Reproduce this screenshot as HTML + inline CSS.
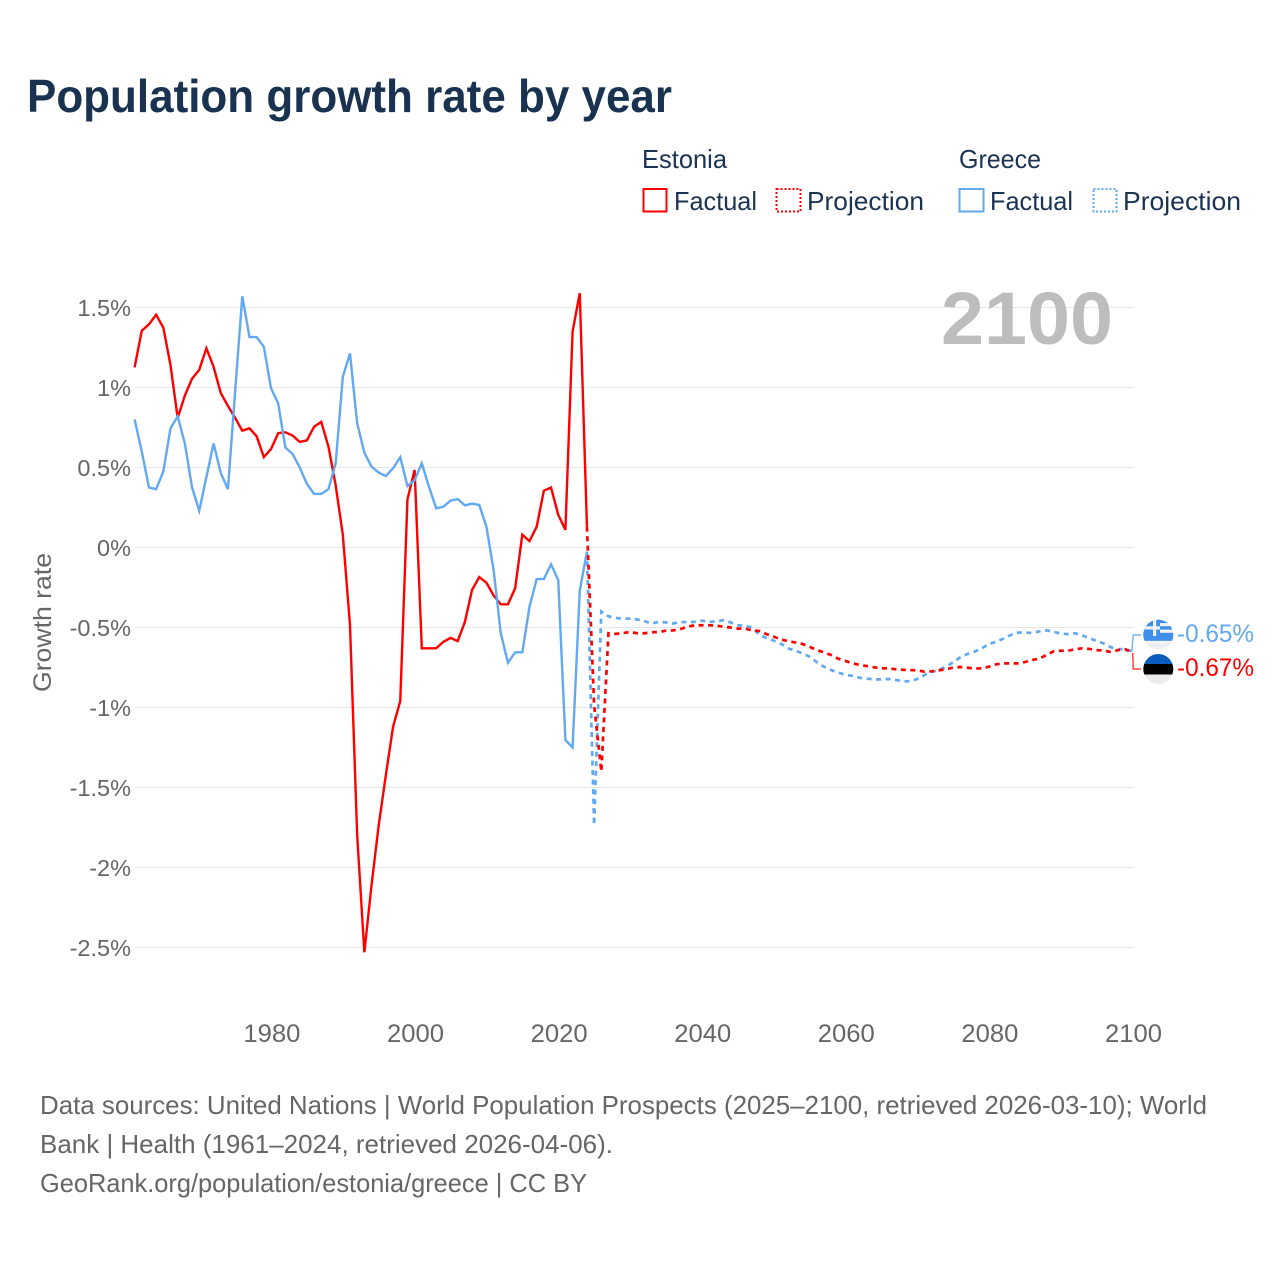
<!DOCTYPE html>
<html lang="en">
<head>
<meta charset="utf-8">
<title>Population growth rate by year</title>
<style>
  html, body { margin: 0; padding: 0; background: #fff; }
  svg { display: block; font-family: "Liberation Sans", Arial, sans-serif; }
</style>
</head>
<body>
<svg id="chart" xmlns="http://www.w3.org/2000/svg" width="1280" height="1280" viewBox="0 0 1280 1280">
  <rect x="0" y="0" width="1280" height="1280" fill="#ffffff"/>
  <text x="27" y="112" font-size="46" font-weight="700" fill="#18324f" textLength="645" lengthAdjust="spacingAndGlyphs">Population growth rate by year</text>

  <g font-size="26" fill="#1b3353">
    <text x="642" y="168" textLength="85" lengthAdjust="spacingAndGlyphs">Estonia</text>
    <rect x="643.5" y="189" width="23" height="22.5" fill="none" stroke="#ff0000" stroke-width="2"/>
    <text x="674" y="210" textLength="83" lengthAdjust="spacingAndGlyphs">Factual</text>
    <rect x="776.5" y="189" width="24" height="22.5" fill="none" stroke="#ff0000" stroke-width="2" stroke-dasharray="2 2"/>
    <text x="807" y="210" textLength="117" lengthAdjust="spacingAndGlyphs">Projection</text>
    <text x="959" y="168" textLength="82" lengthAdjust="spacingAndGlyphs">Greece</text>
    <rect x="959.5" y="189" width="24" height="22.5" fill="none" stroke="#62a9f0" stroke-width="2"/>
    <text x="990" y="210" textLength="83" lengthAdjust="spacingAndGlyphs">Factual</text>
    <rect x="1093.5" y="189" width="23" height="22.5" fill="none" stroke="#62a9f0" stroke-width="2" stroke-dasharray="2 2"/>
    <text x="1123" y="210" textLength="118" lengthAdjust="spacingAndGlyphs">Projection</text>
  </g>

  <g id="grid"></g>
  <g id="yticks"></g>
  <g id="xticks"></g>

  <text transform="translate(51,622.5) rotate(-90)" text-anchor="middle" font-size="25" fill="#666666" textLength="139" lengthAdjust="spacingAndGlyphs">Growth rate</text>
  <text x="941" y="344" font-size="74" font-weight="700" fill="#bdbdbd" textLength="172" lengthAdjust="spacingAndGlyphs">2100</text>

  <g id="series"></g>

  <path d="M1131.7 651.5 L1133.3 635 L1141 635" fill="none" stroke="#62a9f0" stroke-width="1.5" opacity="0.85"/>
  <path d="M1132.7 653 L1133.3 669 L1141 669" fill="none" stroke="#ff0000" stroke-width="1.5" opacity="0.75"/>

  <defs>
    <clipPath id="clip-gr"><circle cx="1158.3" cy="634.7" r="15"/></clipPath>
    <clipPath id="clip-ee"><circle cx="1158.3" cy="669" r="15"/></clipPath>
  </defs>
  <g clip-path="url(#clip-gr)">
    <rect x="1143" y="619" width="31" height="31" fill="#f2f2f2"/>
    <rect x="1143" y="619.5" width="31" height="3.6" fill="#3f8fea"/>
    <rect x="1143" y="626.2" width="31" height="3.4" fill="#3f8fea"/>
    <rect x="1143" y="632.8" width="31" height="8" fill="#3f8fea"/>
    <rect x="1143" y="644.5" width="31" height="2" fill="#e4ecf6"/>
    <rect x="1143" y="619.5" width="17" height="16.5" fill="#3f8fea"/>
    <rect x="1153" y="619.5" width="3.2" height="16.5" fill="#f2f2f2"/>
    <rect x="1143" y="626.3" width="17" height="3.2" fill="#f2f2f2"/>
  </g>
  <g clip-path="url(#clip-ee)">
    <rect x="1143" y="654" width="31" height="10" fill="#0a5cbd"/>
    <rect x="1143" y="664" width="31" height="10.5" fill="#000000"/>
    <rect x="1143" y="674.5" width="31" height="10" fill="#ececec"/>
  </g>
  <text x="1177" y="642" font-size="25" fill="#62a9f0" textLength="77" lengthAdjust="spacingAndGlyphs">-0.65%</text>
  <text x="1177" y="676" font-size="25" fill="#ff0000" textLength="77" lengthAdjust="spacingAndGlyphs">-0.67%</text>

  <g font-size="26" fill="#666666">
    <text x="40" y="1114" textLength="1167" lengthAdjust="spacingAndGlyphs">Data sources: United Nations | World Population Prospects (2025–2100, retrieved 2026-03-10); World</text>
    <text x="40" y="1153" textLength="573" lengthAdjust="spacingAndGlyphs">Bank | Health (1961–2024, retrieved 2026-04-06).</text>
    <text x="40" y="1192" textLength="547" lengthAdjust="spacingAndGlyphs">GeoRank.org/population/estonia/greece | CC BY</text>
  </g>
</svg>

<script>
const yTickValues = [1.5, 1, 0.5, 0, -0.5, -1, -1.5, -2, -2.5];
const yTickLabels = ["1.5%", "1%", "0.5%", "0%", "-0.5%", "-1%", "-1.5%", "-2%", "-2.5%"];
const xTickYears = [1980, 2000, 2020, 2040, 2060, 2080, 2100];

const factualYears = [1961,1962,1963,1964,1965,1966,1967,1968,1969,1970,1971,1972,1973,1974,1975,1976,1977,1978,1979,1980,1981,1982,1983,1984,1985,1986,1987,1988,1989,1990,1991,1992,1993,1994,1995,1996,1997,1998,1999,2000,2001,2002,2003,2004,2005,2006,2007,2008,2009,2010,2011,2012,2013,2014,2015,2016,2017,2018,2019,2020,2021,2022,2023,2024];
const projectionYears = [2024,2025,2026,2027,2028,2029,2030,2031,2032,2033,2034,2035,2036,2037,2038,2039,2040,2041,2042,2043,2044,2045,2046,2047,2048,2049,2050,2051,2052,2053,2054,2055,2056,2057,2058,2059,2060,2061,2062,2063,2064,2065,2066,2067,2068,2069,2070,2071,2072,2073,2074,2075,2076,2077,2078,2079,2080,2081,2082,2083,2084,2085,2086,2087,2088,2089,2090,2091,2092,2093,2094,2095,2096,2097,2098,2099,2100];

const estoniaFactual = [1.126,1.355,1.395,1.455,1.374,1.14,0.81,0.95,1.055,1.11,1.245,1.13,0.965,0.885,0.81,0.73,0.745,0.695,0.565,0.615,0.715,0.72,0.70,0.66,0.67,0.755,0.785,0.63,0.39,0.08,-0.485,-1.8,-2.53,-2.11,-1.735,-1.42,-1.12,-0.96,0.30,0.485,-0.63,-0.63,-0.63,-0.59,-0.565,-0.585,-0.465,-0.265,-0.185,-0.22,-0.30,-0.355,-0.355,-0.255,0.08,0.04,0.13,0.355,0.375,0.205,0.11,1.35,1.59,0.13];
const greeceFactual = [0.80,0.60,0.375,0.365,0.475,0.745,0.82,0.65,0.375,0.23,0.44,0.65,0.465,0.365,0.975,1.57,1.315,1.315,1.255,0.995,0.90,0.625,0.585,0.50,0.397,0.335,0.335,0.365,0.525,1.067,1.213,0.776,0.593,0.505,0.468,0.447,0.495,0.564,0.384,0.42,0.526,0.38,0.245,0.255,0.293,0.303,0.264,0.274,0.266,0.13,-0.14,-0.536,-0.72,-0.655,-0.655,-0.37,-0.197,-0.197,-0.105,-0.203,-1.203,-1.25,-0.27,-0.026];
const estoniaProjection = [0.13,-0.985,-1.40,-0.536,-0.54,-0.535,-0.528,-0.536,-0.536,-0.53,-0.528,-0.52,-0.518,-0.51,-0.495,-0.486,-0.486,-0.486,-0.488,-0.495,-0.50,-0.507,-0.507,-0.518,-0.522,-0.541,-0.557,-0.574,-0.586,-0.593,-0.603,-0.62,-0.641,-0.655,-0.672,-0.695,-0.709,-0.724,-0.734,-0.741,-0.749,-0.755,-0.755,-0.761,-0.764,-0.766,-0.768,-0.776,-0.774,-0.768,-0.761,-0.751,-0.747,-0.751,-0.757,-0.755,-0.745,-0.73,-0.724,-0.724,-0.724,-0.716,-0.703,-0.695,-0.672,-0.649,-0.645,-0.645,-0.636,-0.63,-0.634,-0.641,-0.645,-0.653,-0.641,-0.636,-0.66];
const greeceProjection = [-0.026,-1.735,-0.40,-0.43,-0.44,-0.445,-0.445,-0.45,-0.46,-0.475,-0.465,-0.468,-0.475,-0.466,-0.466,-0.465,-0.457,-0.465,-0.462,-0.455,-0.468,-0.486,-0.49,-0.50,-0.545,-0.566,-0.582,-0.601,-0.63,-0.645,-0.661,-0.682,-0.716,-0.745,-0.766,-0.782,-0.795,-0.803,-0.814,-0.82,-0.824,-0.824,-0.822,-0.828,-0.836,-0.836,-0.822,-0.797,-0.778,-0.766,-0.745,-0.718,-0.686,-0.666,-0.651,-0.63,-0.603,-0.589,-0.57,-0.547,-0.532,-0.532,-0.534,-0.524,-0.518,-0.526,-0.539,-0.541,-0.536,-0.549,-0.568,-0.584,-0.601,-0.624,-0.636,-0.634,-0.651];

const NS = "http://www.w3.org/2000/svg";
function xScale(year) { return 134.6 + (year - 1961) * 7.18; }
function yScale(value) { return 547.5 - value * 160; }
function linePath(years, values) {
  return values.map(function (v, i) {
    return (i ? "L" : "M") + xScale(years[i]).toFixed(2) + " " + yScale(v).toFixed(2);
  }).join(" ");
}

const gridGroup = document.getElementById("grid");
const yTickGroup = document.getElementById("yticks");
const xTickGroup = document.getElementById("xticks");
const seriesGroup = document.getElementById("series");

yTickValues.forEach(function (value, i) {
  const gridLine = document.createElementNS(NS, "line");
  gridLine.setAttribute("x1", 135);
  gridLine.setAttribute("x2", 1133);
  gridLine.setAttribute("y1", yScale(value));
  gridLine.setAttribute("y2", yScale(value));
  gridLine.setAttribute("stroke", "#e6e6e6");
  gridLine.setAttribute("stroke-width", "1");
  
  
  gridGroup.appendChild(gridLine);

  const tick = document.createElementNS(NS, "text");
  tick.setAttribute("x", 131);
  tick.setAttribute("y", yScale(value) + 8.5);
  tick.setAttribute("text-anchor", "end");
  tick.setAttribute("font-size", "23.5");
  tick.setAttribute("fill", "#666666");
  tick.textContent = yTickLabels[i];
  
  
  yTickGroup.appendChild(tick);
});

xTickYears.forEach(function (year) {
  const tick = document.createElementNS(NS, "text");
  tick.setAttribute("x", xScale(year) + 0.9);
  tick.setAttribute("y", 1042);
  tick.setAttribute("text-anchor", "middle");
  tick.setAttribute("font-size", "25");
  tick.setAttribute("fill", "#666666");
  tick.setAttribute("textLength", "57");
  tick.setAttribute("lengthAdjust", "spacingAndGlyphs");
  tick.textContent = String(year);
  
  
  xTickGroup.appendChild(tick);
});

function styledLine(years, values, color, dashed) {
  const line = document.createElementNS(NS, "path");
  line.setAttribute("d", linePath(years, values));
  line.setAttribute("fill", "none");
  line.setAttribute("stroke", color);
  line.setAttribute("stroke-width", dashed ? "2.7" : "2.4");
  line.setAttribute("stroke-linejoin", "miter");
  if (dashed) { line.setAttribute("stroke-dasharray", "5 4.5"); }
  seriesGroup.appendChild(line);
  return line;
}

const estoniaFactualLine = styledLine(factualYears, estoniaFactual, "#ff0000", false);



const greeceFactualLine = styledLine(factualYears, greeceFactual, "#62a9f0", false);



const greeceProjectionLine = styledLine(projectionYears, greeceProjection, "#62a9f0", true);



const estoniaProjectionLine = styledLine(projectionYears, estoniaProjection, "#ff0000", true);


</script>
</body>
</html>
